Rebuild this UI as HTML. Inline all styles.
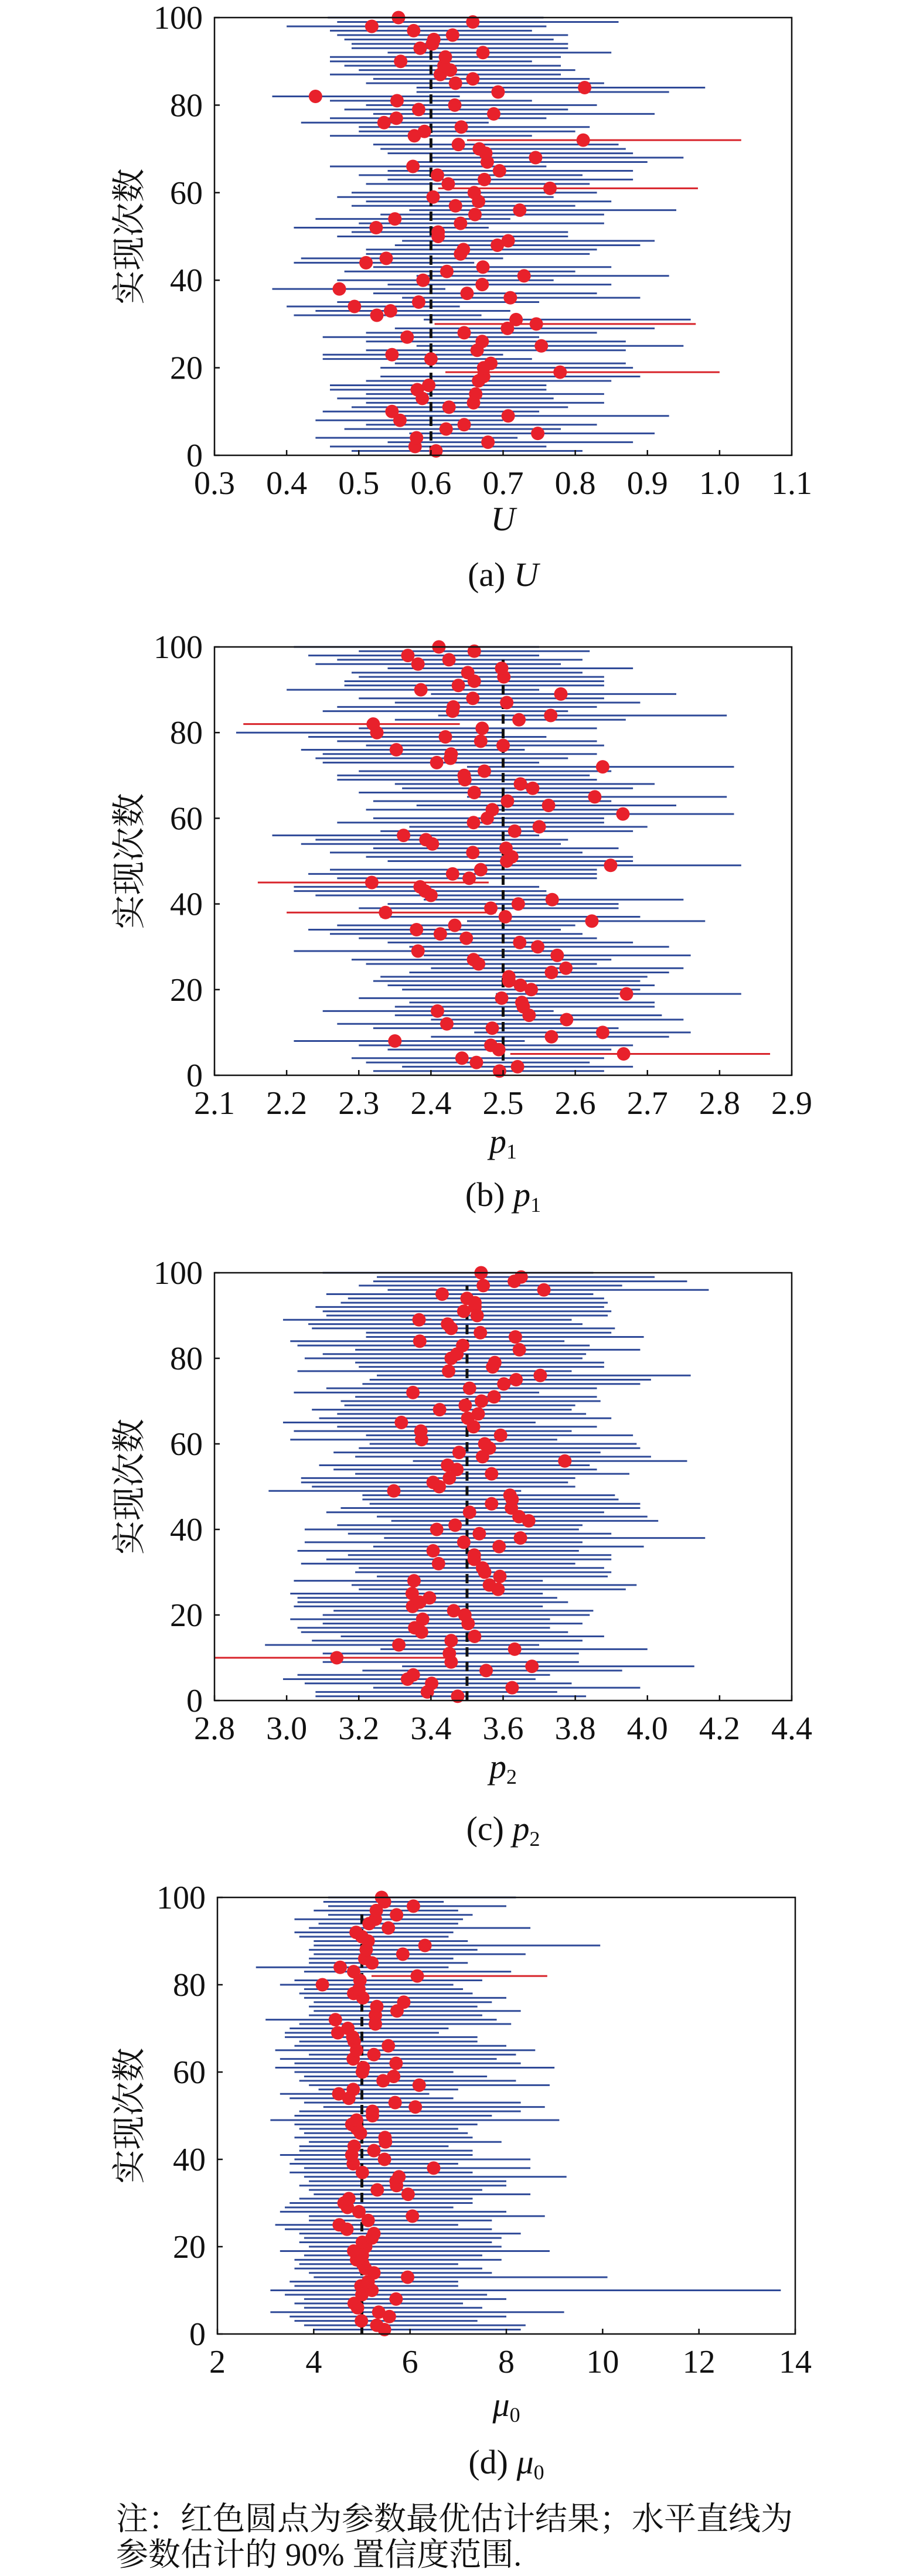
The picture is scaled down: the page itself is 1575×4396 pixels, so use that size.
<!DOCTYPE html>
<html><head><meta charset="utf-8"><title>Parameter estimates</title>
<style>
html,body{margin:0;padding:0;background:#fff;}
svg{display:block;}
text{font-family:"Liberation Serif","Noto Serif CJK SC",serif;fill:#111;}
.cjk{font-family:"Liberation Serif","Noto Serif CJK SC",serif;}
</style></head>
<body>
<svg id="fig" width="1575" height="4396" viewBox="0 0 1575 4396" xmlns="http://www.w3.org/2000/svg">
<text class="cjk" x="198" y="4317" font-size="55">注：红色圆点为参数最优估计结果；水平直线为</text>
<text class="cjk" x="198" y="4378" font-size="55">参数估计的 90% 置信度范围.</text>
</svg>
<script>
// ---------- Panel (a) U ----------
const estU=[0.607,0.578,0.679,0.580,0.748,0.621,0.646,0.557,0.707,0.546,0.625,0.659,0.588,0.662,0.581,0.597,0.666,0.673,0.779,0.673,0.683,0.600,0.546,0.664,0.753,0.671,0.567,0.646,0.706,0.746,0.718,0.525,0.544,0.494,0.583,0.710,0.650,0.473,0.671,0.589,0.729,0.622,0.672,0.510,0.538,0.641,0.645,0.692,0.707,0.610,0.610,0.524,0.641,0.550,0.661,0.723,0.634,0.666,0.603,0.660,0.765,0.624,0.674,0.609,0.695,0.575,0.678,0.745,0.676,0.667,0.638,0.811,0.577,0.591,0.642,0.535,0.552,0.687,0.583,0.633,0.553,0.440,0.693,0.813,0.634,0.658,0.613,0.627,0.618,0.558,0.620,0.672,0.585,0.602,0.604,0.630,0.576,0.518,0.658,0.555];
const lowU=[0.49,0.46,0.54,0.44,0.57,0.48,0.51,0.44,0.56,0.45,0.49,0.51,0.47,0.51,0.46,0.46,0.51,0.53,0.62,0.53,0.55,0.45,0.45,0.51,0.58,0.51,0.45,0.51,0.55,0.605,0.59,0.41,0.44,0.40,0.47,0.56,0.52,0.38,0.54,0.47,0.58,0.48,0.52,0.41,0.42,0.51,0.51,0.55,0.56,0.47,0.49,0.41,0.50,0.44,0.53,0.57,0.49,0.51,0.47,0.49,0.61,0.51,0.54,0.50,0.54,0.46,0.57,0.60,0.54,0.53,0.52,0.65,0.46,0.50,0.50,0.42,0.46,0.52,0.48,0.51,0.46,0.38,0.58,0.58,0.51,0.52,0.46,0.50,0.48,0.46,0.46,0.54,0.49,0.49,0.48,0.47,0.46,0.40,0.47,0.457];
const highU=[0.81,0.76,0.88,0.72,0.91,0.78,0.83,0.70,0.93,0.75,0.79,0.84,0.77,0.84,0.76,0.76,0.85,0.89,1.00,0.88,0.87,0.74,0.70,0.87,0.95,0.87,0.75,0.83,0.91,0.967,0.96,0.67,0.71,0.64,0.75,0.89,0.83,0.62,0.85,0.77,0.93,0.80,0.85,0.66,0.70,0.82,0.83,0.89,0.91,0.79,0.79,0.68,0.84,0.71,0.84,0.94,0.80,0.85,0.77,0.83,0.97,0.82,0.88,0.81,0.88,0.76,0.90,0.95,0.88,0.87,0.86,1.03,0.74,0.80,0.82,0.68,0.76,0.91,0.79,0.83,0.74,0.64,0.93,0.98,0.84,0.82,0.78,0.80,0.78,0.74,0.78,0.85,0.79,0.79,0.77,0.79,0.74,0.76,0.86,0.756];
const ticksU=["0.3","0.4","0.5","0.6","0.7","0.8","0.9","1.0","1.1"];
const truthU=0.6;

// ---------- Panel (b) p1 ----------
const estP1=[2.495,2.520,2.463,2.443,2.667,2.494,2.483,2.350,2.567,2.638,2.485,2.422,2.588,2.536,2.409,2.528,2.526,2.498,2.671,2.539,2.524,2.508,2.508,2.567,2.587,2.466,2.459,2.575,2.382,2.548,2.523,2.449,2.413,2.380,2.433,2.623,2.503,2.337,2.483,2.521,2.568,2.400,2.392,2.385,2.318,2.453,2.430,2.469,2.649,2.505,2.512,2.458,2.504,2.402,2.393,2.362,2.516,2.550,2.459,2.478,2.666,2.485,2.563,2.506,2.627,2.460,2.541,2.524,2.447,2.446,2.474,2.638,2.408,2.427,2.428,2.352,2.500,2.469,2.420,2.325,2.471,2.320,2.522,2.566,2.430,2.431,2.505,2.458,2.580,2.386,2.438,2.460,2.501,2.451,2.498,2.382,2.425,2.368,2.460,2.411];
const lowP1=[2.32,2.36,2.31,2.29,2.51,2.34,2.30,2.21,2.40,2.46,2.32,2.27,2.40,2.35,2.25,2.35,2.37,2.30,2.49,2.36,2.34,2.32,2.33,2.37,2.40,2.31,2.29,2.39,2.21,2.37,2.34,2.30,2.26,2.23,2.27,2.45,2.33,2.20,2.30,2.34,2.39,2.24,2.21,2.21,2.16,2.27,2.23,2.26,2.47,2.34,2.31,2.26,2.32,2.22,2.24,2.18,2.33,2.37,2.27,2.32,2.48,2.31,2.38,2.32,2.45,2.30,2.36,2.35,2.27,2.27,2.30,2.45,2.25,2.24,2.25,2.22,2.31,2.27,2.23,2.13,2.30,2.14,2.35,2.41,2.25,2.27,2.35,2.30,2.40,2.20,2.28,2.28,2.30,2.29,2.34,2.24,2.27,2.23,2.30,2.21];
const highP1=[2.64,2.68,2.62,2.64,2.87,2.65,2.68,2.53,2.73,2.76,2.66,2.59,2.75,2.72,2.57,2.71,2.71,2.66,2.83,2.69,2.71,2.69,2.70,2.73,2.75,2.63,2.65,2.76,2.57,2.73,2.68,2.63,2.61,2.58,2.60,2.78,2.69,2.49,2.66,2.66,2.75,2.57,2.56,2.55,2.48,2.63,2.63,2.63,2.83,2.68,2.68,2.61,2.66,2.58,2.59,2.55,2.68,2.70,2.64,2.64,2.82,2.66,2.74,2.65,2.81,2.63,2.68,2.71,2.63,2.62,2.65,2.82,2.55,2.59,2.63,2.53,2.64,2.63,2.56,2.50,2.63,2.44,2.67,2.81,2.59,2.63,2.69,2.64,2.74,2.55,2.64,2.64,2.64,2.61,2.68,2.58,2.61,2.55,2.62,2.55];
const ticksP1=["2.1","2.2","2.3","2.4","2.5","2.6","2.7","2.8","2.9"];
const truthP1=2.5;

// ---------- Panel (c) p2 ----------
const estP2=[3.474,3.390,3.625,3.402,3.335,3.351,3.553,3.680,3.456,3.139,3.451,3.632,3.311,3.456,3.521,3.374,3.355,3.503,3.377,3.494,3.463,3.349,3.369,3.396,3.348,3.586,3.562,3.353,3.591,3.549,3.543,3.421,3.520,3.520,3.406,3.589,3.491,3.648,3.534,3.416,3.467,3.671,3.644,3.507,3.623,3.568,3.625,3.619,3.297,3.423,3.406,3.451,3.568,3.472,3.446,3.771,3.543,3.478,3.562,3.549,3.374,3.593,3.372,3.518,3.318,3.502,3.531,3.424,3.495,3.540,3.575,3.350,3.507,3.602,3.636,3.703,3.449,3.571,3.577,3.456,3.472,3.645,3.488,3.369,3.634,3.537,3.456,3.446,3.367,3.528,3.491,3.522,3.522,3.500,3.431,3.713,3.545,3.631,3.650,3.539];
const lowP2=[3.08,3.08,3.24,3.05,2.99,3.03,3.21,3.32,3.10,2.80,3.10,3.26,2.94,3.07,3.15,3.04,3.03,3.10,3.01,3.10,3.13,3.02,3.03,3.03,3.01,3.20,3.18,3.02,3.25,3.19,3.20,3.04,3.11,3.17,3.03,3.24,3.05,3.27,3.17,3.05,3.14,3.29,3.25,3.11,3.15,3.23,3.21,3.21,2.95,3.07,3.04,3.04,3.19,3.13,3.09,3.35,3.19,3.13,3.20,3.23,3.01,3.22,3.02,3.14,2.99,3.09,3.14,3.07,3.16,3.15,3.19,3.02,3.11,3.21,3.23,3.25,3.03,3.20,3.19,3.05,3.10,3.19,3.03,3.01,3.22,3.22,3.07,3.06,2.99,3.11,3.10,3.08,3.15,3.17,3.11,3.28,3.20,3.24,3.25,3.10];
const highP2=[3.83,3.75,3.98,3.79,3.69,3.73,3.93,4.13,3.81,3.45,3.81,4.00,3.70,3.82,3.88,3.78,3.73,3.82,3.73,3.84,3.85,3.71,3.78,3.75,3.71,3.94,3.97,3.71,3.89,3.90,3.88,3.80,3.90,3.90,3.81,3.99,3.82,4.16,3.90,3.81,3.82,4.03,4.00,3.88,3.98,3.98,3.92,3.91,3.65,3.80,3.78,3.80,3.95,3.86,3.84,4.11,4.01,3.87,3.98,3.97,3.75,3.96,3.79,3.86,3.69,3.90,3.83,3.79,3.80,3.87,3.86,3.70,3.86,3.98,4.01,4.12,3.79,3.88,3.88,3.82,3.83,3.98,3.84,3.77,3.99,3.90,3.91,3.82,3.79,3.89,3.90,3.88,3.89,3.88,3.85,4.17,3.93,4.11,4.02,3.85];
const ticksP2=["2.8","3.0","3.2","3.4","3.6","3.8","4.0","4.2","4.4"];
const truthP2=3.5;

// ---------- Panel (d) mu0 ----------
const estMu=[5.47,5.31,4.99,5.57,5.35,4.91,4.84,5.71,5.00,5.21,4.98,5.13,5.95,5.25,5.07,5.02,4.89,5.01,4.83,5.08,5.01,5.21,5.25,4.69,4.53,5.13,6.05,4.94,4.70,4.63,4.73,5.96,5.32,5.72,5.71,5.77,5.01,6.49,4.82,5.47,4.79,5.25,4.84,5.49,5.48,4.97,4.90,4.79,4.89,5.22,5.22,6.11,5.69,4.73,4.52,4.82,6.19,5.44,5.66,5.01,5.03,5.71,4.82,5.25,4.89,5.55,4.84,4.81,4.50,4.71,5.28,4.45,5.28,5.73,5.31,5.87,5.02,4.83,4.94,4.18,4.96,6.15,4.83,4.55,5.21,5.06,5.85,5.09,6.31,5.13,5.00,4.88,5.55,5.15,5.28,5.72,5.30,6.07,5.47,5.41];
const lowMu=[4.0,3.8,3.6,3.5,3.1,3.8,3.6,3.8,3.4,3.1,3.6,3.5,4.0,3.9,3.6,3.7,3.6,3.8,3.3,3.9,3.7,3.8,3.7,3.4,3.2,3.9,3.9,3.3,3.4,3.5,3.7,4.0,3.9,3.7,3.9,3.8,3.5,3.8,3.5,3.6,3.3,3.7,3.7,3.9,3.6,3.8,3.7,3.6,3.1,3.6,3.7,4.2,3.8,3.5,3.3,4.1,3.9,3.7,3.8,3.6,3.2,3.6,3.3,3.9,3.2,3.6,3.7,3.4,3.4,3.5,3.7,3.0,3.9,4.0,3.9,4.0,3.8,3.7,3.8,3.3,3.6,5.2,3.8,2.8,3.9,3.9,4.0,3.9,4.0,4.0,3.7,3.6,3.9,4.1,3.6,4.3,4.0,4.3,4.2,4.3];
const highMu=[8.3,8.4,7.4,8.0,9.2,7.5,7.1,8.0,7.6,13.7,7.0,7.0,10.1,7.7,7.5,7.0,7.9,7.5,8.9,7.9,7.7,7.9,8.3,7.7,7.0,7.7,8.8,8.0,6.9,7.3,7.3,8.5,7.5,8.0,8.0,9.25,7.3,8.5,7.0,8.5,7.3,7.3,6.8,7.9,7.3,7.2,7.0,7.4,9.1,7.7,8.3,8.8,8.3,6.9,6.4,7.0,8.9,8.2,7.6,6.9,9.0,8.3,7.8,8.2,8.6,8.0,7.4,7.4,6.6,6.8,8.1,7.8,7.5,8.3,7.4,7.7,8.0,7.3,7.1,6.9,7.5,8.85,8.1,6.8,7.2,6.9,8.4,7.4,9.95,7.2,6.8,6.9,8.5,7.0,7.1,7.3,7.0,8.0,6.7,8.2];
const ticksMu=["2","4","6","8","10","12","14"];
const truthMu=5;

const yTicks=["0","20","40","60","80","100"];

const NS="http://www.w3.org/2000/svg";
const svg=document.getElementById('fig');
function mk(tag,attrs,parent){const e=document.createElementNS(NS,tag);for(const k in attrs)e.setAttribute(k,attrs[k]);(parent||svg).appendChild(e);return e;}

function panel(cfg){
  const {key,L,R,T,B,xmin,xmax,ticks,est,low,high,truth,capLetter,sym,sub,labelDy,capDy}=cfg;
  const g=mk('g',{});
  
  
  const xs=v=>L+(v-xmin)/(xmax-xmin)*(R-L);
  const ys=i=>B-(i)/100*(B-T);
  // intervals and dots
  for(let k=0;k<est.length;k++){
    const row=k+1;
    const miss=(high[k]<truth)||(low[k]>truth);
    const x1=Math.max(L,xs(low[k])), x2=Math.min(R+200,xs(high[k]));
    const ln=mk('line',{x1:x1,x2:x2,y1:ys(row),y2:ys(row),stroke:miss?'#d8232a':'#2f4a98','stroke-width':3},g);
    
    
  }
  // truth dashed line
  const tl=mk('line',{x1:xs(truth),x2:xs(truth),y1:B,y2:ys(97),stroke:'#111','stroke-width':5,'stroke-dasharray':'16 9'},g);
  
  
  for(let k=0;k<est.length;k++){
    const row=k+1;
    const c=mk('circle',{cx:xs(est[k]),cy:ys(row),r:11.5,fill:'#e8212b'},g);
    
    
  }
  // axes frame
  const fr=mk('rect',{x:L,y:T,width:R-L,height:B-T,fill:'none',stroke:'#111','stroke-width':2.5},g);
  
  
  // x ticks
  ticks.forEach(t=>{
    const x=xs(parseFloat(t));
    const tk=mk('line',{x1:x,x2:x,y1:B,y2:B-9,stroke:'#111','stroke-width':2.5},g);
    
    
    const tx=mk('text',{x:x,y:B+66,'font-size':56,'text-anchor':'middle'},g);
    tx.textContent=t;
    
    
  });
  // y ticks
  yTicks.forEach(t=>{
    const y=ys(parseFloat(t));
    const tk=mk('line',{x1:L,x2:L+9,y1:y,y2:y,stroke:'#111','stroke-width':2.5},g);
    
    
    const tx=mk('text',{x:L-20,y:y+19,'font-size':56,'text-anchor':'end'},g);
    tx.textContent=t;
    
    
  });
  // y title
  const cy=(T+B)/2;
  const yt=mk('text',{x:0,y:0,'font-size':58,'text-anchor':'middle',transform:`translate(240,${cy}) rotate(-90)`,'class':'cjk'},g);
  yt.textContent='实现次数';
  
  
  // x title
  const cx=(L+R)/2;
  const xt=mk('text',{x:cx,y:B+labelDy,'font-size':58,'text-anchor':'middle','font-style':'italic'},g);
  
  
  const s1=mk('tspan',{},xt);s1.textContent=sym;
  if(sub){const s2=mk('tspan',{'font-size':36,'font-style':'normal',dy:10},xt);s2.textContent=sub;}
  // caption
  const cp=mk('text',{x:cx,y:B+capDy,'font-size':58,'text-anchor':'middle'},g);
  
  
  const c1=mk('tspan',{},cp);c1.textContent='('+capLetter+') ';
  const c2=mk('tspan',{'font-style':'italic'},cp);c2.textContent=sym;
  if(sub){const c3=mk('tspan',{'font-size':36,dy:10},cp);c3.textContent=sub;}
}

panel({key:'u',L:366,R:1351,T:30,B:777,xmin:0.3,xmax:1.1,ticks:ticksU,est:estU,low:lowU,high:highU,truth:truthU,capLetter:'a',sym:'U',sub:'',labelDy:128,capDy:223});
panel({key:'p1',L:366,R:1351,T:1104,B:1835,xmin:2.1,xmax:2.9,ticks:ticksP1,est:estP1,low:lowP1,high:highP1,truth:truthP1,capLetter:'b',sym:'p',sub:'1',labelDy:132,capDy:223});
panel({key:'p2',L:366,R:1351,T:2172,B:2902,xmin:2.8,xmax:4.4,ticks:ticksP2,est:estP2,low:lowP2,high:highP2,truth:truthP2,capLetter:'c',sym:'p',sub:'2',labelDy:132,capDy:238});
panel({key:'mu0',L:371,R:1357,T:3238,B:3983,xmin:2,xmax:14,ticks:ticksMu,est:estMu,low:lowMu,high:highMu,truth:truthMu,capLetter:'d',sym:'μ',sub:'0',labelDy:140,capDy:238});
</script>
</body></html>
